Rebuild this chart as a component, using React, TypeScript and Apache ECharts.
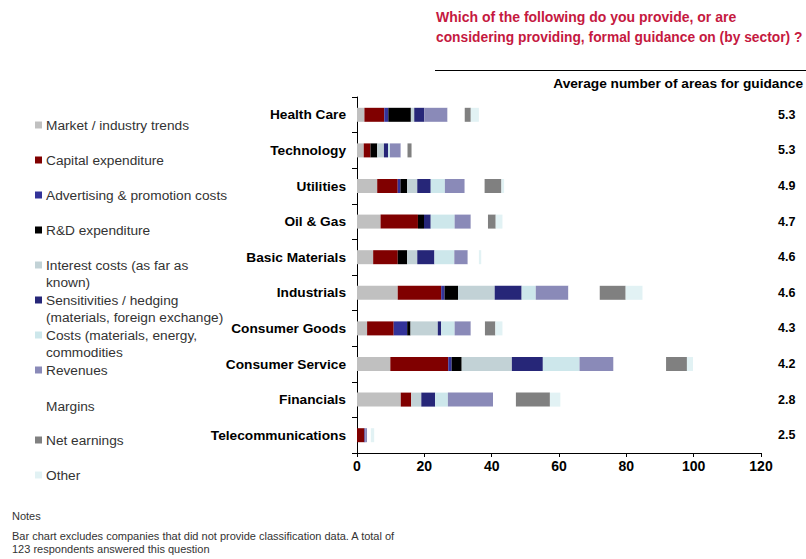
import React, { useEffect, useRef } from "react";
import * as echarts from "echarts";

const categories = ["Health Care", "Technology", "Utilities", "Oil & Gas", "Basic Materials", "Industrials", "Consumer Goods", "Consumer Service", "Financials", "Telecommunications"];
const averages = ["5.3", "5.3", "4.9", "4.7", "4.6", "4.6", "4.3", "4.2", "2.8", "2.5"];

const seriesNames = [
  "Market / industry trends",
  "Capital expenditure",
  "Advertising & promotion costs",
  "R&D expenditure",
  "Interest costs (as far as\nknown)",
  "Sensitivities / hedging\n(materials, foreign exchange)",
  "Costs (materials, energy,\ncommodities",
  "Revenues",
  "Margins",
  "Net earnings",
  "Other",
];

const marketTrends = [2.2, 2.0, 6.0, 7.0, 4.8, 12.1, 3.0, 9.9, 13.0, 0];
const capitalExpenditure = [5.9, 2.0, 6.1, 11.1, 7.3, 12.9, 7.9, 17.2, 3.1, 2.2];
const advertising = [1.2, 0, 0.8, 0, 0, 1.0, 4.0, 1.0, 0, 0.3];
const rdExpenditure = [6.7, 2.0, 2.0, 1.8, 2.8, 4.0, 1.0, 3.0, 0, 0];
const interestCosts = [1.0, 2.0, 3.0, 0, 3.0, 10.9, 8.1, 14.9, 3.0, 0];
const sensitivities = [3.0, 1.2, 4.0, 2.0, 5.1, 8.0, 1.0, 9.2, 4.1, 0];
const costs = [0, 0.6, 4.2, 7.1, 5.9, 4.2, 4.0, 10.9, 3.8, 0];
const revenues = [6.9, 3.2, 5.9, 4.8, 4.0, 9.7, 4.8, 10.1, 13.4, 0.5];
const margins = [5.1, 2.0, 5.9, 5.1, 3.3, 9.3, 4.2, 15.6, 6.8, 1.1];
const netEarnings = [1.8, 1.2, 5.0, 2.3, 0, 7.7, 3.1, 6.2, 10.1, 0];
const other = [2.4, 0, 0.8, 2.0, 0.7, 5.0, 2.1, 1.8, 3.1, 1.0];

const seriesData = [marketTrends, capitalExpenditure, advertising, rdExpenditure, interestCosts, sensitivities, costs, revenues, margins, netEarnings, other];
const colors = ["#C0C0C0", "#800000", "#333399", "#000000", "#C2D2D6", "#262678", "#CDE7EB", "#8A8AB8", "#FFFFFF", "#808080", "#E2F2F4"];

const titleLines = ["Which of the following do you provide, or are", "considering providing, formal guidance on (by sector) ?"];

// legend first-line y positions
const legendY = [125, 160, 195, 230, 265, 300, 335, 370, 406, 440, 475];

const FONT = "'Liberation Sans', Arial, sans-serif";

export default function App() {
  const ref = useRef<HTMLDivElement>(null);
  useEffect(() => {
    document.body.style.margin = "0";
    if (!ref.current) return;
    const chart = echarts.init(ref.current, undefined, { renderer: "svg" });

    const legendGraphics: any[] = [];
    seriesNames.forEach((name, i) => {
      if (colors[i] !== "#FFFFFF") {
        legendGraphics.push({
          type: "rect",
          shape: { x: 35, y: legendY[i] - 3.5, width: 7, height: 7 },
          style: { fill: colors[i] },
        });
      }
      legendGraphics.push({
        type: "text",
        x: 46,
        y: legendY[i] - 8.5,
        style: {
          text: name,
          fill: "#333333",
          font: `13.7px ${FONT}`,
          lineHeight: 17,
          textVerticalAlign: "top",
        },
      });
    });

    chart.setOption({
      animation: false,
      backgroundColor: "#ffffff",
      grid: { left: 357, top: 97, width: 404, height: 356, containLabel: false },
      xAxis: {
        type: "value",
        min: 0,
        max: 120,
        interval: 20,
        axisLine: { show: true, lineStyle: { color: "#000", width: 1 } },
        axisTick: { show: true, length: 4, lineStyle: { color: "#000" } },
        splitLine: { show: false },
        axisLabel: { color: "#000", fontWeight: "bold", fontSize: 14, fontFamily: FONT, margin: 6 },
      },
      yAxis: [
        {
          type: "category",
          data: categories,
          inverse: true,
          axisLine: { show: true, lineStyle: { color: "#000", width: 1 } },
          axisTick: { show: true, length: 5, lineStyle: { color: "#000" } },
          axisLabel: { color: "#000", fontWeight: "bold", fontSize: 13.7, fontFamily: FONT, margin: 11 },
        },
        {
          type: "category",
          data: averages,
          inverse: true,
          position: "right",
          axisLine: { show: false },
          axisTick: { show: false },
          axisLabel: { color: "#000", fontWeight: "bold", fontSize: 12.5, fontFamily: FONT, margin: 17, align: "left" },
        },
      ],
      series: seriesNames.map((name, i) => ({
        name,
        type: "bar",
        stack: "total",
        barWidth: 14,
        data: seriesData[i],
        itemStyle: { color: colors[i] },
        yAxisIndex: 0,
      })),
      graphic: [
        {
          type: "text",
          x: 436,
          y: 17,
          style: {
            text: titleLines[0],
            fill: "#C5193F",
            font: `bold 14px ${FONT}`,
            textVerticalAlign: "middle",
          },
        },
        {
          type: "text",
          x: 436,
          y: 37,
          style: {
            text: titleLines[1],
            fill: "#C5193F",
            font: `bold 13.8px ${FONT}`,
            textVerticalAlign: "middle",
          },
        },
        {
          type: "line",
          shape: { x1: 435, y1: 70.5, x2: 806, y2: 70.5 },
          style: { stroke: "#000", lineWidth: 1 },
        },
        {
          type: "text",
          x: 803,
          y: 83,
          style: {
            text: "Average number of areas for guidance",
            fill: "#000",
            font: `bold 13.7px ${FONT}`,
            textAlign: "right",
            textVerticalAlign: "middle",
          },
        },
        ...legendGraphics,
        {
          type: "text",
          x: 12,
          y: 516,
          style: { text: "Notes", fill: "#333", font: `11px ${FONT}`, textVerticalAlign: "middle" },
        },
        {
          type: "text",
          x: 12,
          y: 529.5,
          style: {
            text: "Bar chart excludes companies that did not provide classification data. A total of\n123 respondents answered this question",
            fill: "#333",
            font: `11px ${FONT}`,
            lineHeight: 13,
            textVerticalAlign: "top",
          },
        },
      ],
    });
    return () => chart.dispose();
  }, []);
  return <div ref={ref} style={{ width: 806, height: 559 }} />;
}
